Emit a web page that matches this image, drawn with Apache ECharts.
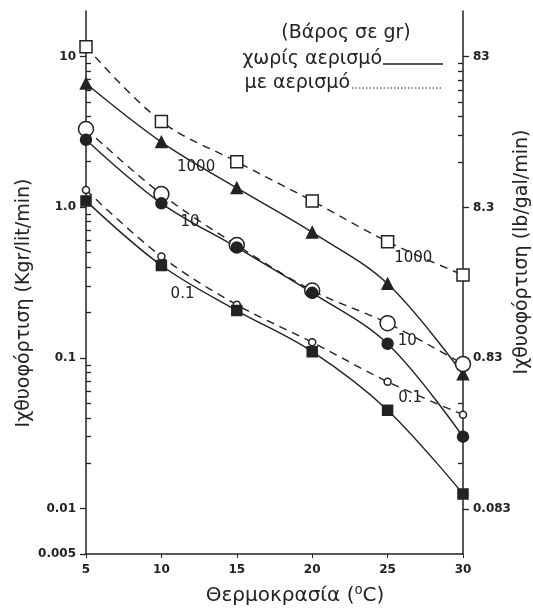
<!DOCTYPE html>
<html style="height: 100%;width: 100%">
<head>
    <meta charset="utf-8">
    <script src="https://cdn.jsdelivr.net/npm/echarts@6/dist/echarts.min.js"></script>
    <style>
        html, body { margin: 0; padding: 0; background: #fff; }
        #container { width: 533px; height: 615px; }
    </style>
</head>
<body>
<div id="container"></div>
<script type="text/javascript">
// temperature (C) and fish load (Kgr/lit/min)
var temps = [5, 10, 15, 20, 25, 30];
var withAer1000 = [11.6, 3.7, 2.0, 1.1, 0.59, 0.355];
var withoutAer1000 = [6.6, 2.7, 1.34, 0.68, 0.31, 0.078];
var withAer10 = [3.3, 1.22, 0.56, 0.28, 0.17, 0.091];
var withoutAer10 = [2.8, 1.06, 0.54, 0.27, 0.124, 0.030];
var withAer01 = [1.3, 0.47, 0.225, 0.127, 0.0695, 0.042];
var withoutAer01 = [1.1, 0.41, 0.206, 0.11, 0.045, 0.0125];

// weight labels written next to the curves: [temp, load, text]
var curveLabels = [
    [12.3, 1.85, '1000'], [11.9, 0.80, '10'], [11.4, 0.265, '0.1'],
    [26.7, 0.46, '1000'], [26.3, 0.13, '10'], [26.5, 0.054, '0.1']
];

var leftTicks = [0.005, 0.01, 0.1, 1, 10];
var rightTicks = [0.083, 0.83, 8.3, 83];
var KG_TO_LB = 8.345;
var yMin = 0.005, yMax = 20;

var leftMinor = [];
[0.01, 0.1, 1].forEach(function (d) {
    for (var k = 2; k <= 9; k++) leftMinor.push(+(d * k).toPrecision(3));
});
var rightMinor = [];
for (var k = 2; k <= 9; k++) rightMinor.push(+(8.3 * k).toPrecision(3));
[2, 3, 5].forEach(function (k) { rightMinor.push(+(0.083 * k).toPrecision(3)); });

function pairs(arr) {
    return temps.map(function (t, i) { return [t, arr[i]]; });
}

var ink = '#222';
var font = 'DejaVu Sans';

function curve(name, data, dashed, symbol, size, filled) {
    return {
        name: name,
        type: 'line',
        data: pairs(data),
        smooth: 0.35,
        symbol: symbol,
        symbolSize: size,
        showAllSymbol: true,
        lineStyle: { color: ink, width: 1.4, type: dashed ? [8, 6] : 'solid' },
        itemStyle: { color: filled ? ink : '#fff', borderColor: ink, borderWidth: 1.5 },
        z: 3
    };
}

var myChart = echarts.init(document.getElementById('container'));

var option = {
    backgroundColor: '#fff',
    animation: false,
    grid: { left: 86, right: 70, top: 11, bottom: 61 },
    xAxis: {
        type: 'value', min: 5, max: 30, interval: 5,
        axisLine: { lineStyle: { color: ink, width: 1.5 } },
        axisTick: { length: 4, lineStyle: { color: ink } },
        axisLabel: { color: ink, fontFamily: font, fontWeight: 'bold', fontSize: 12, margin: 10 },
        splitLine: { show: false }
    },
    yAxis: [
        {
            type: 'log', position: 'left', min: yMin, max: yMax,
            axisLine: { lineStyle: { color: ink, width: 1.5 } },
            axisTick: { length: 6, customValues: leftTicks, lineStyle: { color: ink, width: 1.3 } },
            axisLabel: {
                customValues: leftTicks, color: ink, fontFamily: font, fontWeight: 'bold', fontSize: 12, margin: 10,
                formatter: function (v) { return v === 1 ? '1.0' : String(+v.toPrecision(3)); }
            },
            splitLine: { show: false }
        },
        {
            type: 'log', position: 'left', min: yMin, max: yMax,
            axisLine: { show: false },
            axisTick: { inside: true, length: 5, customValues: leftMinor, lineStyle: { color: ink, width: 1.3 } },
            axisLabel: { show: false },
            splitLine: { show: false }
        },
        {
            type: 'log', position: 'right', min: yMin * KG_TO_LB, max: yMax * KG_TO_LB,
            axisLine: { lineStyle: { color: ink, width: 1.5 } },
            axisTick: { length: 6, customValues: rightTicks, lineStyle: { color: ink, width: 1.3 } },
            axisLabel: {
                customValues: rightTicks, color: ink, fontFamily: font, fontWeight: 'bold', fontSize: 12, margin: 10,
                formatter: function (v) { return String(+v.toPrecision(2)); }
            },
            splitLine: { show: false }
        },
        {
            type: 'log', position: 'right', min: yMin * KG_TO_LB, max: yMax * KG_TO_LB,
            axisLine: { show: false },
            axisTick: { inside: true, length: 5, customValues: rightMinor, lineStyle: { color: ink, width: 1.3 } },
            axisLabel: { show: false },
            splitLine: { show: false }
        }
    ],
    series: [
        curve('με αερισμό 1000', withAer1000, true, 'rect', 12, false),
        curve('χωρίς αερισμό 1000', withoutAer1000, false, 'triangle', 11, true),
        curve('με αερισμό 10', withAer10, true, 'circle', 15, false),
        curve('χωρίς αερισμό 10', withoutAer10, false, 'circle', 11, true),
        curve('με αερισμό 0.1', withAer01, true, 'circle', 7, false),
        curve('χωρίς αερισμό 0.1', withoutAer01, false, 'rect', 10, true),
        {
            type: 'scatter',
            data: curveLabels,
            symbolSize: 0,
            silent: true,
            itemStyle: { opacity: 1, color: ink },
            label: {
                show: true, position: 'inside', color: ink, opacity: 1, fontFamily: font, fontSize: 15,
                formatter: function (p) { return p.value[2]; }
            },
            z: 4
        }
    ],
    graphic: [
        { type: 'text', x: 346, y: 33, style: { text: '(Βάρος σε gr)', font: '19px DejaVu Sans', fill: ink, align: 'center', verticalAlign: 'middle' } },
        { type: 'text', x: 382, y: 59, style: { text: 'χωρίς αερισμό', font: '19px DejaVu Sans', fill: ink, align: 'right', verticalAlign: 'middle' } },
        { type: 'line', shape: { x1: 383, y1: 64, x2: 443, y2: 64 }, style: { stroke: ink, lineWidth: 1.3 } },
        { type: 'text', x: 350, y: 83, style: { text: 'με αερισμό', font: '19px DejaVu Sans', fill: ink, align: 'right', verticalAlign: 'middle' } },
        { type: 'line', shape: { x1: 352, y1: 88, x2: 442, y2: 88 }, style: { stroke: ink, lineWidth: 1, lineDash: [1.5, 2] } },
        { type: 'text', x: 24, y: 303, rotation: Math.PI / 2, style: { text: 'Ιχθυοφόρτιση (Kgr/lit/min)', font: '19px DejaVu Sans', fill: ink, align: 'center', verticalAlign: 'middle' } },
        { type: 'text', x: 522, y: 252, rotation: Math.PI / 2, style: { text: 'Ιχθυοφόρτιση (lb/gal/min)', font: '19px DejaVu Sans', fill: ink, align: 'center', verticalAlign: 'middle' } },
        { type: 'text', x: 295, y: 596, style: { text: 'Θερμοκρασία (⁰C)', font: '20px DejaVu Sans', fill: ink, align: 'center', verticalAlign: 'middle' } }
    ]
};

myChart.setOption(option);
</script>
</body>
</html>
